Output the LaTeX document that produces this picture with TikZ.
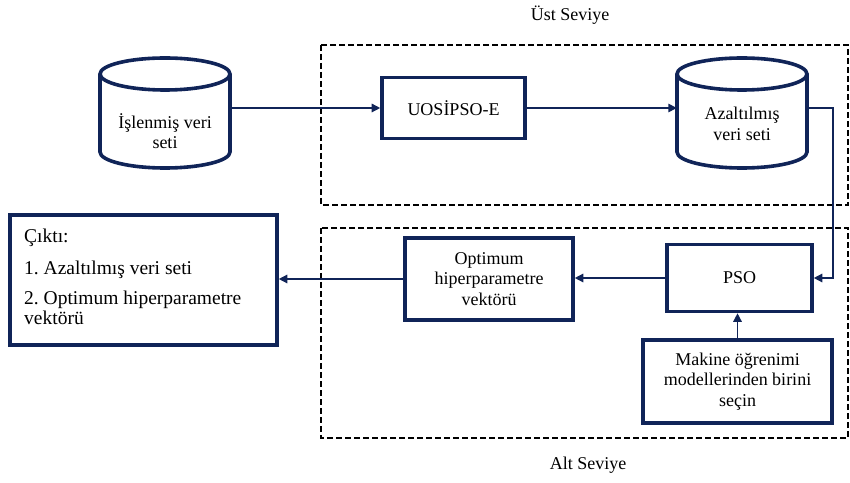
\documentclass[tikz,border=0pt]{standalone}
\usepackage{fontspec}
\setmainfont{Liberation Serif}
\usetikzlibrary{arrows.meta}
\definecolor{navy}{RGB}{16,36,88}
\frenchspacing
\begin{document}
\begin{tikzpicture}[x=1pt,y=1pt,
  txt/.style={font=\fontsize{18}{20.5}\selectfont, text=black, align=center},
  box/.style={draw=navy, line width=3.6pt, fill=white, inner sep=0pt, txt},
  link/.style={draw=navy, line width=1.4pt, -{Triangle[length=8.5pt,width=8.5pt]}},
  zone/.style={draw=black, line width=1.3pt, dash pattern=on 6pt off 3pt},
  cyl/.style={draw=navy, line width=3.6pt, fill=white}
]
\useasboundingbox (0,0) rectangle (850,482);
\fill[white] (0,0) rectangle (850,482);

% level zones
\draw[zone] (321,437) rectangle (848,277);
\draw[zone] (321,254) rectangle (848,44);
\node[txt] (ust) at (570,467) {Üst Seviye};
\node[txt] (alt) at (588,17) {Alt Seviye};

% cylinder 1
\draw[cyl] (100,408) -- (100,330) arc[start angle=180,end angle=360,x radius=65,y radius=16] -- (230,408);
\draw[cyl] (165,408) ellipse [x radius=65, y radius=16];
\node[minimum width=130pt, minimum height=110pt, inner sep=0pt] (cyl1) at (165,369) {};
\node[txt] (cyl1t) at (165,351) {İşlenmiş veri\\seti};

% cylinder 2
\draw[cyl] (677,408) -- (677,330) arc[start angle=180,end angle=360,x radius=65,y radius=16] -- (807,408);
\draw[cyl] (742,408) ellipse [x radius=65, y radius=16];
\node[minimum width=130pt, minimum height=110pt, inner sep=0pt] (cyl2) at (742,369) {};
\node[txt] (cyl2t) at (742,358) {Azaltılmış\\veri seti};

% boxes
\node[box, minimum width=143pt, minimum height=61pt] (uos) at (453.5,374) {UOSİPSO-E};
\node[box, minimum width=145pt, minimum height=67pt] (pso) at (739.5,204) {PSO};
\node[box, minimum width=168pt, minimum height=82pt] (opt) at (489,203) {Optimum\\hiperparametre\\vektörü};
\node[box, minimum width=267pt, minimum height=130pt] (out) at (143.5,202) {};
\node[txt, font=\fontsize{19.5}{19.5}\selectfont, anchor=north west, inner sep=0pt, align=left] (outt) at (24,253)
  {Çıktı:\\[12pt]1. Azaltılmış veri seti\\[11pt]2. Optimum hiperparametre\\vektörü};
\node[box, minimum width=189pt, minimum height=83pt] (mak) at (737.5,100.5) {Makine öğrenimi\\modellerinden birini\\seçin};

% connectors
\coordinate (c2out) at (807,374);
\coordinate (bend1) at (833,374);
\coordinate (bend2) at (833,204);
\draw[link] (cyl1.east |- uos.west) -- (uos.west);
\draw[link] (uos.east) -- (uos.east -| cyl2.west);
\draw[link] (c2out) -- (bend1) -- (bend2) -- (pso.east);
\draw[link] (pso.west) -- (pso.west -| opt.east);
\draw[link] (opt.west) -- (opt.west -| out.east);
\draw[link] (mak.north) -- (mak.north |- pso.south);
\end{tikzpicture}
\end{document}
